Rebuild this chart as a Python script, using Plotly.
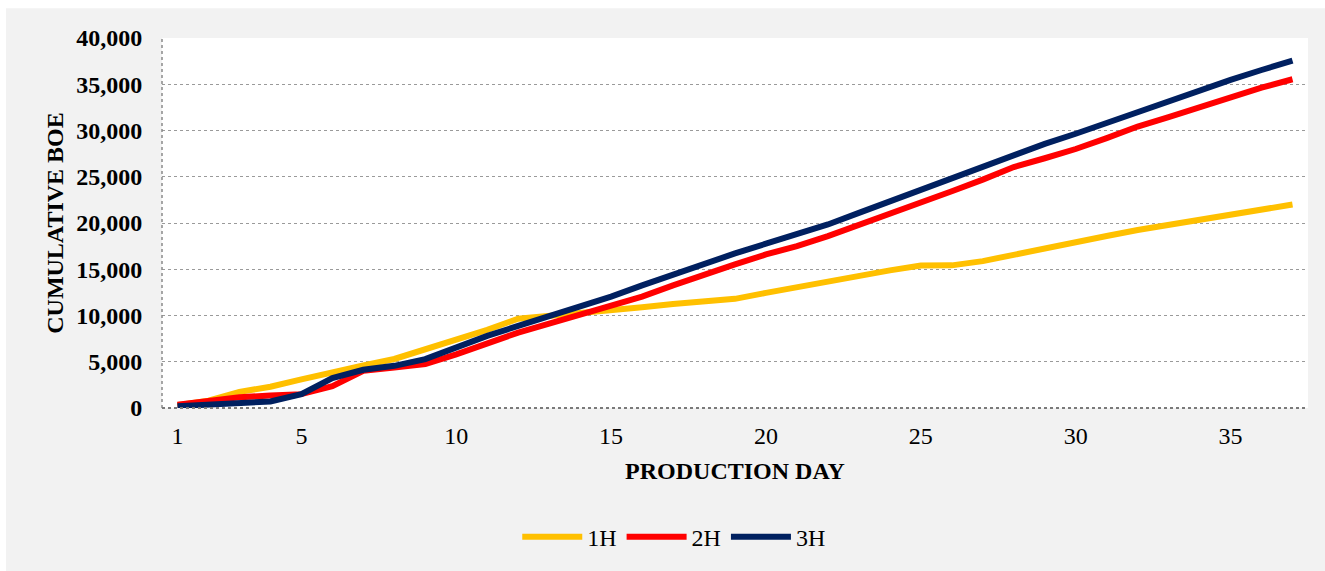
import plotly.graph_objects as go

# Production days 1..37
days = list(range(1, 38))

# Cumulative BOE per well
boe_1h = [300, 800, 1750, 2300, 3100, 3900, 4600, 5300, 6300, 7450, 8450, 9650,
          9950, 10150, 10500, 10900, 11250, 11600, 11800, 12450, 13080, 13720,
          14270, 14880, 15400, 15420, 15880, 16600, 17320, 17950, 18600, 19250,
          19800, 20350, 20900, 21450, 22000]
boe_2h = [350, 780, 1150, 1350, 1500, 2350, 4020, 4380, 4750, 5800, 7050, 8150,
          9130, 10130, 11100, 12040, 13260, 14450, 15520, 16600, 17500, 18580,
          19760, 20990, 22240, 23430, 24690, 26050, 27000, 28000, 29180, 30430,
          31440, 32520, 33670, 34640, 35540]
boe_3h = [200, 350, 480, 700, 1500, 3230, 4130, 4560, 5280, 6540, 7800, 8870,
          9880, 10920, 12040, 13260, 14450, 15630, 16710, 17760, 18760, 19840,
          21100, 22350, 23610, 24870, 26200, 27460, 28550, 29650, 30800, 32120,
          33240, 34390, 35470, 36540, 37550]

well_names = ["1H", "2H", "3H"]
well_colors = ["#FFC000", "#FF0000", "#002060"]
x_ticks = [1, 5, 10, 15, 20, 25, 30, 35]
y_ticks = list(range(0, 40001, 5000))

FONT = "Liberation Serif, Times New Roman, serif"

fig = go.Figure()
for name, vals, color in zip(well_names, [boe_1h, boe_2h, boe_3h], well_colors):
    fig.add_trace(go.Scatter(
        x=days, y=vals, name=name, mode="lines",
        line=dict(color=color, width=6),
    ))

fig.update_layout(
    width=1325, height=571,
    margin=dict(l=162, r=17, t=38, b=161),
    paper_bgcolor="#f2f2f2",
    plot_bgcolor="white",
    font=dict(family=FONT, color="black", size=24),
    showlegend=True,
    legend=dict(
        orientation="h", x=0.31, xanchor="left", y=-0.349, yanchor="middle",
        font=dict(family=FONT, size=24, color="black"),
        bgcolor="rgba(0,0,0,0)", itemwidth=60, tracegroupgap=0,
    ),
    xaxis=dict(
        range=[0.5, 37.5], tickvals=x_ticks, ticktext=[str(t) for t in x_ticks],
        showgrid=False, zeroline=False, showline=False,
        ticks="outside", ticklen=6, tickcolor="rgba(0,0,0,0)",
        tickfont=dict(family=FONT, size=24, color="black"),
        title=dict(text="<b>PRODUCTION DAY</b>", standoff=14,
                   font=dict(family=FONT, size=24, color="black")),
    ),
    yaxis=dict(
        range=[0, 40000], tickvals=y_ticks,
        ticktext=["<b>{:,}</b>".format(v) for v in y_ticks],
        showgrid=True, gridcolor="#9a9a9a", gridwidth=1, griddash="dot",
        zeroline=False, showline=False,
        ticks="outside", ticklen=14, tickcolor="rgba(0,0,0,0)",
        tickfont=dict(family=FONT, size=24, color="black"),
        title=dict(text="<b>CUMULATIVE BOE</b>", standoff=5,
                   font=dict(family=FONT, size=24, color="black")),
    ),
    shapes=[
        # thin white page strips along the top and left of the gray panel
        dict(type="rect", xref="paper", yref="paper", layer="below",
             x0=-0.2, x1=1.1, y0=1 + 30 / 372, y1=1.2,
             fillcolor="white", line=dict(width=0)),
        dict(type="rect", xref="paper", yref="paper", layer="below",
             x0=-0.2, x1=-156 / 1146, y0=-0.5, y1=1.2,
             fillcolor="white", line=dict(width=0)),
        # dotted left and bottom axis lines
        dict(type="line", xref="paper", yref="paper", x0=0, x1=0, y0=0, y1=1,
             line=dict(color="#8a8a8a", width=1.5, dash="dot")),
        dict(type="line", xref="paper", yref="paper", x0=0, x1=1, y0=0, y1=0,
             line=dict(color="#7a7a7a", width=2, dash="dot")),
    ],
)

fig.write_html("out.html")
